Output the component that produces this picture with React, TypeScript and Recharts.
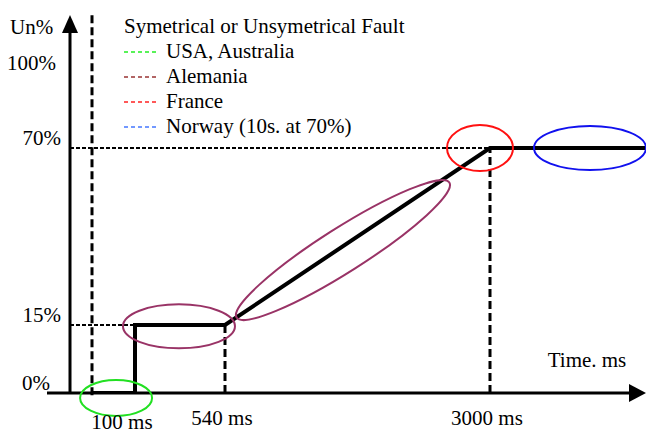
import React from 'react';
import { LineChart, Line, XAxis, YAxis, ReferenceLine, ReferenceDot, Legend, Label } from 'recharts';

// ---------- data ----------
const curveTimes = [0, 100, 100, 540, 3000, 10000];
const curveLevels = [0, 0, 15, 15, 70, 70];
const timeTicks = [100, 540, 3000];
const levelTicks = [0, 15, 70, 100];
const legendTitle = 'Symetrical or Unsymetrical Fault';
const legendNames = ['USA, Australia', 'Alemania', 'France', 'Norway (10s. at 70%)'];
const highlightTimes = [56, 315, 1635, 2907, 7487];
const highlightLevels = [-1.1, 14.7, 38.3, 70, 70];
const highlightGroup = [0, 1, 1, 2, 3];

const curve = curveTimes.map((t, i) => ({ t, v: curveLevels[i] }));

// ---------- styles ----------
const FONT = '"Liberation Serif", "Times New Roman", serif';
const FS = 21;
const W = 646;
const H = 434;
const legendLineColors = ['#22ee22', '#993333', '#ff2222', '#4477ff'];
const ellipseColors = ['#22e022', '#993366', '#ff1111', '#1111ee'];
const ellipseShapes = [
  { rx: 36, ry: 18, angle: 0 },
  { rx: 56, ry: 22, angle: 0 },
  { rx: 126, ry: 22, angle: -32.4 },
  { rx: 33, ry: 23, angle: 0 },
  { rx: 56, ry: 22, angle: 0 },
];
const yLabelRight: Record<number, number> = { 0: 50, 15: 61, 70: 61, 100: 56 };

// schematic (piecewise linear) axes
const X_LEFT = 47;
const X_RIGHT = 646;
const Y_TOP = 15;
const Y_BOTTOM = 393;
const xBreaks = [-150, -100, 0, 100, 540, 3000, 10000];
const xPix = [47, 70, 92, 135, 225, 490, 646];
const yBreaks = [0, 15, 70, 100, 120];
const yPix = [393, 325, 148, 73, 15];
const xFracs = xPix.map((p) => (p - X_LEFT) / (X_RIGHT - X_LEFT));
const yFracs = yPix.map((p) => (Y_BOTTOM - p) / (Y_BOTTOM - Y_TOP));

function makePiecewise(bk: number[], fr: number[]): any {
  let dom: number[] = [bk[0], bk[bk.length - 1]];
  let rng: number[] = [0, 1];
  const n = bk.length;
  const s: any = (val: any) => {
    const v = Number(val);
    let i = 0;
    if (v <= bk[0]) i = 0;
    else if (v >= bk[n - 1]) i = n - 2;
    else {
      while (i < n - 2 && v > bk[i + 1]) i++;
    }
    const f = fr[i] + ((v - bk[i]) / (bk[i + 1] - bk[i])) * (fr[i + 1] - fr[i]);
    return rng[0] + f * (rng[1] - rng[0]);
  };
  s.domain = (d?: any) => {
    if (d === undefined) return dom.slice();
    dom = [...d];
    return s;
  };
  s.range = (r?: any) => {
    if (r === undefined) return rng.slice();
    rng = [...r];
    return s;
  };
  s.copy = () => makePiecewise(bk, fr).domain(dom).range(rng);
  s.ticks = () => bk.slice();
  s.invert = (px: number) => {
    const f = (px - rng[0]) / (rng[1] - rng[0]);
    let i = 0;
    while (i < n - 2 && f > fr[i + 1]) i++;
    return bk[i] + ((f - fr[i]) / (fr[i + 1] - fr[i])) * (bk[i + 1] - bk[i]);
  };
  return s;
}

const xScale = makePiecewise(xBreaks, xFracs);
const yScale = makePiecewise(yBreaks, yFracs);

const textStyle = { fontFamily: FONT, fontSize: FS, fill: '#000' };

const XTick = (props: any) => {
  const { x, y, payload } = props;
  const v = payload.value;
  const first = v === timeTicks[0];
  return (
    <text x={x + (first ? -13 : -3)} y={y + (first ? 29 : 25)} textAnchor="middle" dominantBaseline="central" style={textStyle}>
      {`${v} ms`}
    </text>
  );
};

const YTick = (props: any) => {
  const { y, payload } = props;
  const v = payload.value;
  return (
    <text x={yLabelRight[v] ?? 61} y={y - 10} textAnchor="end" dominantBaseline="central" style={textStyle}>
      {`${v}%`}
    </text>
  );
};

const arrowShape = (dir: 'up' | 'right') => (p: any) => {
  const { x1, y1, x2, y2 } = p;
  if (dir === 'up') {
    const top = Math.min(y1, y2);
    const bottom = Math.max(y1, y2);
    return (
      <g>
        <line x1={x1} y1={bottom} x2={x1} y2={top + 16} stroke="#000" strokeWidth={3} />
        <polygon points={`${x1},${top} ${x1 - 8},${top + 18} ${x1 + 8},${top + 18}`} fill="#000" />
      </g>
    );
  }
  const left = Math.min(x1, x2);
  const right = Math.max(x1, x2);
  return (
    <g>
      <line x1={left} y1={y1} x2={right - 16} y2={y1} stroke="#000" strokeWidth={3} />
      <polygon points={`${right},${y1} ${right - 17},${y1 - 9} ${right - 17},${y1 + 9}`} fill="#000" />
    </g>
  );
};

const ellipseShape = (k: number) => (p: any) => {
  const { cx, cy } = p;
  const sh = ellipseShapes[k];
  const color = ellipseColors[highlightGroup[k]];
  return (
    <ellipse
      cx={cx}
      cy={cy}
      rx={sh.rx}
      ry={sh.ry}
      transform={`rotate(${sh.angle} ${cx} ${cy})`}
      fill="none"
      stroke={color}
      strokeWidth={2}
    />
  );
};

const renderLegend = () => (
  <div style={{ fontFamily: FONT, fontSize: FS, lineHeight: '25px', color: '#000', whiteSpace: 'nowrap' }}>
    <div>{legendTitle}</div>
    {legendNames.map((n, i) => (
      <div key={n} style={{ display: 'flex', alignItems: 'center', height: 25 }}>
        <svg width={42} height={25} style={{ flex: 'none' }}>
          <line x1={0} x2={34} y1={13} y2={13} stroke={legendLineColors[i]} strokeWidth={1.5} strokeDasharray="4 3" />
        </svg>
        <span>{n}</span>
      </div>
    ))}
  </div>
);

export default function App() {
  return (
    <div style={{ position: 'absolute', left: 0, top: 0, width: W, height: H, background: '#fff' }}>
      <LineChart width={W} height={H} data={curve} margin={{ top: Y_TOP, right: W - X_RIGHT, bottom: 0, left: 0 }}>
        <XAxis
          type="number"
          dataKey="t"
          domain={[xBreaks[0], xBreaks[xBreaks.length - 1]]}
          scale={xScale}
          ticks={timeTicks}
          interval={0}
          allowDataOverflow
          axisLine={false}
          tickLine={false}
          tickSize={0}
          tickMargin={0}
          height={H - Y_BOTTOM}
          tick={<XTick />}
        >
          <Label
            content={() => (
              <text x={587} y={360} textAnchor="middle" dominantBaseline="central" style={textStyle}>
                Time. ms
              </text>
            )}
          />
        </XAxis>
        <YAxis
          type="number"
          domain={[yBreaks[0], yBreaks[yBreaks.length - 1]]}
          scale={yScale}
          ticks={levelTicks}
          interval={0}
          allowDataOverflow
          axisLine={false}
          tickLine={false}
          tickSize={0}
          tickMargin={0}
          width={X_LEFT}
          tick={<YTick />}
        >
          <Label
            content={() => (
              <text x={10} y={27} textAnchor="start" dominantBaseline="central" style={textStyle}>
                Un%
              </text>
            )}
          />
        </YAxis>
        <Legend layout="vertical" align="center" verticalAlign="middle" wrapperStyle={{ top: 14, left: 124, width: 380, height: 130 }} content={renderLegend} />

        <ReferenceLine segment={[{ x: -100, y: 15 }, { x: 100, y: 15 }]} stroke="#000" strokeWidth={2} strokeDasharray="4 2" ifOverflow="visible" />
        <ReferenceLine segment={[{ x: -100, y: 70 }, { x: 3000, y: 70 }]} stroke="#000" strokeWidth={2} strokeDasharray="4 2" ifOverflow="visible" />
        <ReferenceLine segment={[{ x: 0, y: -0.5 }, { x: 0, y: 120 }]} stroke="#000" strokeWidth={3} strokeDasharray="8 4" ifOverflow="visible" />
        <ReferenceLine segment={[{ x: 540, y: 0 }, { x: 540, y: 15 }]} stroke="#000" strokeWidth={3} strokeDasharray="8 4" ifOverflow="visible" />
        <ReferenceLine segment={[{ x: 3000, y: 0 }, { x: 3000, y: 70 }]} stroke="#000" strokeWidth={3} strokeDasharray="8 4" ifOverflow="visible" />
        <ReferenceLine segment={[{ x: -100, y: 0 }, { x: -100, y: 120 }]} shape={arrowShape('up')} ifOverflow="visible" />
        <ReferenceLine segment={[{ x: -150, y: 0 }, { x: 10000, y: 0 }]} shape={arrowShape('right')} ifOverflow="visible" />

        {highlightTimes.map((t, k) => (
          <ReferenceDot key={k} x={t} y={highlightLevels[k]} r={1} ifOverflow="visible" shape={ellipseShape(k)} />
        ))}

        <Line
          type="linear"
          dataKey="v"
          stroke="#000"
          strokeWidth={4}
          dot={false}
          activeDot={false}
          isAnimationActive={false}
          strokeLinejoin="miter"
        />
      </LineChart>
    </div>
  );
}
